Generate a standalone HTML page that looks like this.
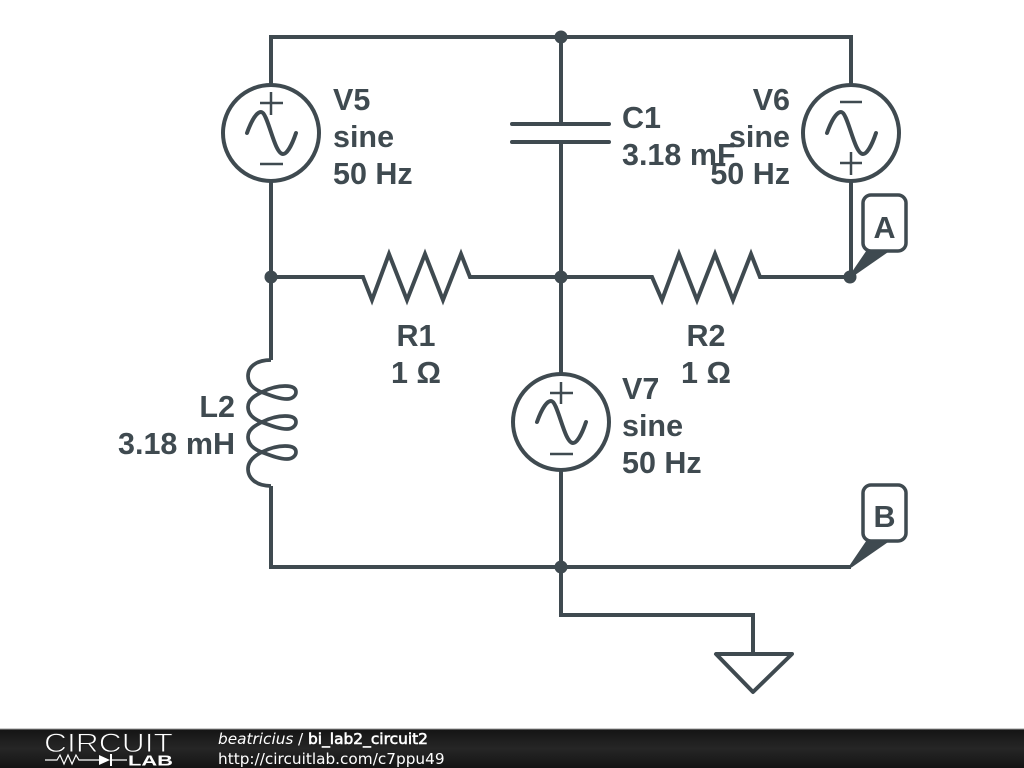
<!DOCTYPE html>
<html>
<head>
<meta charset="utf-8">
<style>
html,body{margin:0;padding:0;background:#fff;width:1024px;height:768px;overflow:hidden}
svg{display:block}
.t{font-family:"Liberation Sans",sans-serif;font-weight:bold;font-size:30.5px;fill:#3f4a50}
.f{font-family:"DejaVu Sans",sans-serif;font-size:15.3px;fill:#fff}
</style>
</head>
<body>
<svg width="1024" height="768" viewBox="0 0 1024 768" xmlns="http://www.w3.org/2000/svg">
<defs>
<linearGradient id="bar" x1="0" y1="0" x2="0" y2="1"><stop offset="0" stop-color="#141414"/><stop offset="0.5" stop-color="#262626"/><stop offset="1" stop-color="#141414"/></linearGradient>
<g id="src" fill="none" stroke="#3f4a50">
<circle cx="0" cy="0" r="48" stroke-width="4" fill="#fff"/>
<path d="M-24 0 C-19 -14 -14 -21 -10 -21 C-3 -21 3 21 12 21 C16 21 21 12 25 0" stroke-width="4" stroke-linecap="round"/>
</g>
</defs>
<g fill="none" stroke="#3f4a50" stroke-width="4">
<path d="M271 85 V37 H851 V85"/>
<path d="M561 37 V124 M561 142 V374"/>
<path d="M271 181 V360 M271 486 V567 H851"/>
<path d="M271 277 H363 L372 300 L389 254 L407 300 L425 254 L443 300 L461 254 L470 277 H561"/>
<path d="M561 277 H652 L662 300 L679 254 L697 300 L715 254 L733 300 L751 254 L760 277 H851 V181"/>
<path d="M561 470 V615 H753 V654"/>
<path d="M512 124 H609 M512 142 H609" stroke-linecap="round"/>
<path d="M716 654 H792 L753 692 Z" stroke-linejoin="round"/>
<path stroke-width="3.700" d="M271 360 C256 360 248 367 248 376 C248 385 255 390 264 393 C272 396 280 399 287 399 C292 399 296 396 296 392 C296 388 292 386 285 386 C276 386 268 389 262 392 C254 396 248 400 248 407 C248 415 255 420 264 423 C272 426 280 429 287 429 C292 429 296 426 296 422 C296 418 292 416 285 416 C276 416 268 419 262 422 C254 426 248 430 248 437 C248 445 255 450 264 453 C272 456 280 459 287 459 C292 459 296 456 296 452 C296 448 292 446 285 446 C276 446 268 449 262 452 C254 456 248 461 248 469 C248 478 256 486 271 486"/>
</g>
<circle cx="561" cy="37" r="6.5" fill="#3f4a50"/>
<circle cx="271" cy="277" r="6.5" fill="#3f4a50"/>
<circle cx="561" cy="277" r="6.5" fill="#3f4a50"/>
<circle cx="850" cy="277" r="6.5" fill="#3f4a50"/>
<circle cx="561" cy="567" r="6.5" fill="#3f4a50"/>
<use href="#src" x="271" y="133"/>
<use href="#src" x="851" y="133"/>
<use href="#src" x="561" y="422"/>
<g fill="none" stroke="#3f4a50" stroke-width="2.5">
<path d="M260 103 H283 M271 92 V115 M260 164 H283"/>
<path d="M840 102 H862 M840 163 H862 M851 152 V175"/>
<path d="M550 393 H573 M561 382 V404 M550 454 H573"/>
</g>
<path d="M851 276 L868 251 L887 251 Z" fill="#3f4a50" stroke="#3f4a50" stroke-width="3" stroke-linejoin="round"/>
<path d="M851 566 L868 541 L887 541 Z" fill="#3f4a50" stroke="#3f4a50" stroke-width="3" stroke-linejoin="round"/>
<rect x="863" y="195" width="43" height="56" rx="8" fill="#fff" stroke="#3f4a50" stroke-width="3.5"/>
<rect x="863" y="485" width="43" height="56" rx="8" fill="#fff" stroke="#3f4a50" stroke-width="3.5"/>
<text class="t" x="884.500" y="238" text-anchor="middle">A</text>
<text class="t" x="884.500" y="527" text-anchor="middle">B</text>
<text class="t" x="333" y="110">V5</text>
<text class="t" x="333" y="147">sine</text>
<text class="t" x="333" y="184">50 Hz</text>
<text class="t" x="790" y="110" text-anchor="end">V6</text>
<text class="t" x="790" y="147" text-anchor="end">sine</text>
<text class="t" x="790" y="184" text-anchor="end">50 Hz</text>
<text class="t" x="622" y="128">C1</text>
<text class="t" x="622" y="165">3.18 mF</text>
<text class="t" x="416" y="346" text-anchor="middle">R1</text>
<text class="t" x="416" y="383" text-anchor="middle">1 Ω</text>
<text class="t" x="706" y="346" text-anchor="middle">R2</text>
<text class="t" x="706" y="383" text-anchor="middle">1 Ω</text>
<text class="t" x="622" y="399">V7</text>
<text class="t" x="622" y="436">sine</text>
<text class="t" x="622" y="473">50 Hz</text>
<text class="t" x="235" y="417" text-anchor="end">L2</text>
<text class="t" x="235" y="454" text-anchor="end">3.18 mH</text>
<rect x="0" y="729" width="1024" height="39" fill="url(#bar)"/>
<rect x="0" y="728.500" width="1024" height="1" fill="#999"/>
<text x="44" y="752" font-family="'Liberation Sans',sans-serif" font-size="27" fill="#fff" stroke="#202020" stroke-width="0.9" textLength="129" lengthAdjust="spacingAndGlyphs">CIRCUIT</text>
<path d="M45 760 H57 L60 755 L64 764 L68 755 L72 764 L76 755 L79 760 H99 M111 760 H127" stroke="#fff" stroke-width="1.200" fill="none"/>
<path d="M99 755 L110 760 L99 765 Z M110 754 H112 V766 H110 Z" fill="#fff"/>
<text x="128" y="765.500" font-family="'Liberation Sans',sans-serif" font-weight="bold" font-size="14.500" fill="#fff" textLength="45" lengthAdjust="spacingAndGlyphs">LAB</text>
<text class="f" x="218" y="744" font-style="italic">beatricius</text>
<text class="f" x="298" y="744">/</text>
<text class="f" x="308" y="744" stroke="#fff" stroke-width="0.6" textLength="120" lengthAdjust="spacingAndGlyphs">bi_lab2_circuit2</text>
<text class="f" x="218" y="764">http://circuitlab.com/c7ppu49</text>
</svg>
</body>
</html>
